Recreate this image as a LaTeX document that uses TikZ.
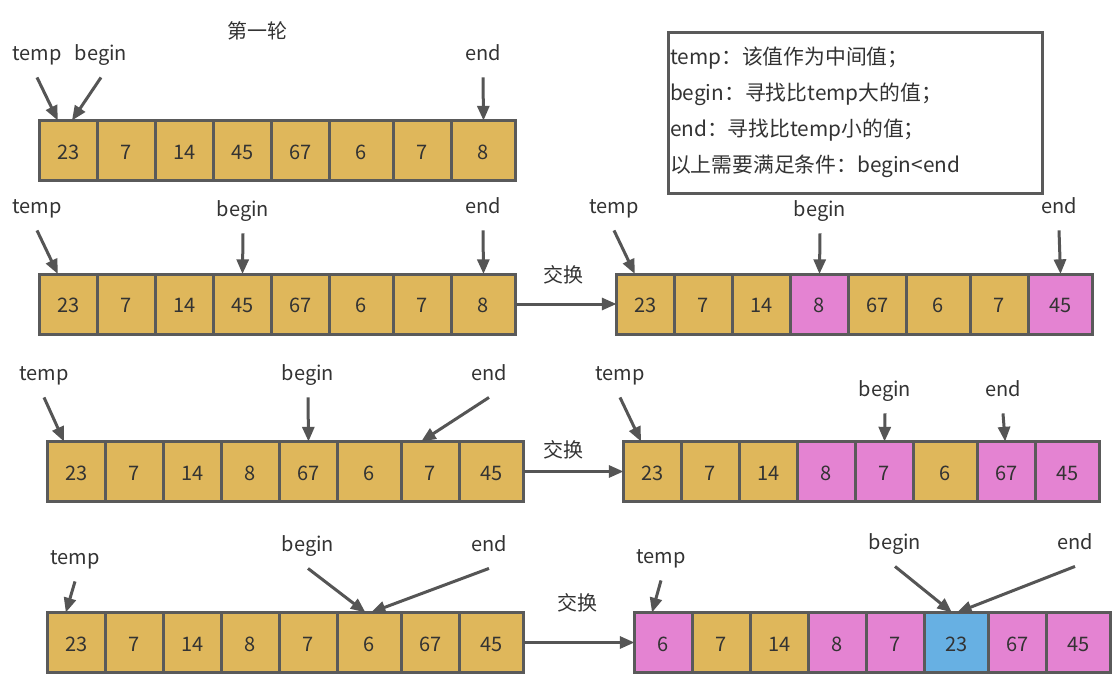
\documentclass[tikz,border=0pt]{standalone}
\usepackage{fontspec}
\setmainfont{Noto Sans CJK SC}
\usepackage{tikz}
\usetikzlibrary{arrows.meta, positioning}
\definecolor{cellgold}{HTML}{DFB75B}
\definecolor{cellpink}{HTML}{E483D2}
\definecolor{cellblue}{HTML}{67B0E3}
\definecolor{edgegray}{HTML}{5A5A5A}
\definecolor{arrowgray}{HTML}{555555}
\definecolor{textgray}{HTML}{333333}

% one array of eight cells (cells 6 and 8 are a little wider)
\newcommand{\numrow}[3]{%
  \foreach \v/\c [count=\i] in {#3} {
    \pgfmathsetmacro{\w}{(\i==6||\i==8) ? 64 : 58}
    \ifnum\i=1
      \node[cell, fill=\c, minimum width=\w*0.75pt, anchor=west] (#1-\i) at #2 {\v};
    \else
      \pgfmathtruncatemacro{\j}{\i-1}
      \node[cell, fill=\c, minimum width=\w*0.75pt, right=0pt of #1-\j] (#1-\i) {\v};
    \fi
  }%
}

\begin{document}
\begin{tikzpicture}[
    x=0.75pt, y=-0.75pt,
    cell/.style={draw=edgegray, line width=2.25pt, minimum height=45pt, inner sep=0pt, outer sep=0pt, text height=13pt, text=textgray, font=\fontsize{15pt}{18pt}\selectfont},
    lbl/.style={inner sep=0pt, text=textgray, text height=12.5pt, text depth=1.75pt, font=\fontsize{15pt}{18pt}\selectfont},
    ptr/.style={draw=arrowgray, line width=2.25pt, -{Triangle[length=11pt, width=9pt]}}
]
\path[fill=white] (0,0) rectangle (1115,690);

% Arrays
\numrow{r1}{(39.5,150.5)}{23/cellgold,7/cellgold,14/cellgold,45/cellgold,67/cellgold,6/cellgold,7/cellgold,8/cellgold}
\numrow{r2a}{(39.5,304)}{23/cellgold,7/cellgold,14/cellgold,45/cellgold,67/cellgold,6/cellgold,7/cellgold,8/cellgold}
\numrow{r2b}{(616.5,304)}{23/cellgold,7/cellgold,14/cellgold,8/cellpink,67/cellgold,6/cellgold,7/cellgold,45/cellpink}
\numrow{r3a}{(47.5,471.5)}{23/cellgold,7/cellgold,14/cellgold,8/cellgold,67/cellgold,6/cellgold,7/cellgold,45/cellgold}
\numrow{r3b}{(623.5,471.5)}{23/cellgold,7/cellgold,14/cellgold,8/cellpink,7/cellpink,6/cellgold,67/cellpink,45/cellpink}
\numrow{r4a}{(47.5,642.5)}{23/cellgold,7/cellgold,14/cellgold,8/cellgold,7/cellgold,6/cellgold,67/cellgold,45/cellgold}
\numrow{r4b}{(634.5,642.5)}{6/cellpink,7/cellgold,14/cellgold,8/cellpink,7/cellpink,23/cellblue,67/cellpink,45/cellpink}

% Title and legend
\node[lbl] (title) at (257,31) {第一轮};
\node[draw=edgegray, line width=2.25pt, anchor=north west, minimum height=161*0.75pt, text width=370*0.75pt, inner xsep=1.5pt, align=left, text=textgray, font=\fontsize{15.6pt}{27.1pt}\selectfont] (legend) at (666.5,30.5)
  {temp：该值作为中间值；\\ begin：寻找比temp大的值；\\ end：寻找比temp小的值；\\ 以上需要满足条件：begin<end};

% Pointer labels
\node[lbl] (r1t) at (37,53) {temp};
\node[lbl] (r1b) at (101,53) {begin};
\node[lbl] (r1e) at (483,53) {end};
\node[lbl] (r2at) at (37,206) {temp};
\node[lbl] (r2ab) at (243,209) {begin};
\node[lbl] (r2ae) at (483,206) {end};
\node[lbl] (r2bt) at (614,206) {temp};
\node[lbl] (r2bb) at (820,209) {begin};
\node[lbl] (r2be) at (1059,206) {end};
\node[lbl] (r3at) at (44,373) {temp};
\node[lbl] (r3ab) at (308,373) {begin};
\node[lbl] (r3ae) at (489,373) {end};
\node[lbl] (r3bt) at (620,373) {temp};
\node[lbl] (r3bb) at (885,389) {begin};
\node[lbl] (r3be) at (1003,389) {end};
\node[lbl] (r4at) at (75,557) {temp};
\node[lbl] (r4ab) at (308,544) {begin};
\node[lbl] (r4ae) at (489,544) {end};
\node[lbl] (r4bt) at (661,556) {temp};
\node[lbl] (r4bb) at (895,542) {begin};
\node[lbl] (r4be) at (1075,542) {end};

% Pointers
\draw[ptr] ([yshift=-11pt]r1t.south) -- ([xshift=-8pt]r1-1.north);
\draw[ptr] ([yshift=-11pt]r1b.south) -- ([xshift=2.6pt]r1-1.north);
\draw[ptr] ([yshift=-11pt]r1e.south) -- (r1-8.north);
\draw[ptr] ([yshift=-11pt]r2at.south) -- ([xshift=-8pt]r2a-1.north);
\draw[ptr] ([yshift=-11pt]r2ab.south) -- (r2a-4.north);
\draw[ptr] ([yshift=-11pt]r2ae.south) -- (r2a-8.north);
\draw[ptr] ([yshift=-11pt]r2bt.south) -- ([xshift=-8pt]r2b-1.north);
\draw[ptr] ([yshift=-11pt]r2bb.south) -- (r2b-4.north);
\draw[ptr] ([yshift=-11pt]r2be.south) -- (r2b-8.north);
\draw[ptr] ([yshift=-11pt]r3at.south) -- ([xshift=-9.4pt]r3a-1.north);
\draw[ptr] ([yshift=-11pt]r3ab.south) -- (r3a-5.north);
\draw[ptr] ([yshift=-11pt]r3ae.south) -- ([xshift=-7pt]r3a-7.north);
\draw[ptr] ([yshift=-11pt]r3bt.south) -- ([xshift=-8.6pt]r3b-1.north);
\draw[ptr] ([yshift=-11pt]r3bb.south) -- (r3b-5.north);
\draw[ptr] ([yshift=-11pt]r3be.south) -- ([xshift=-1pt]r3b-7.north);
\draw[ptr] ([yshift=-11pt]r4at.south) -- ([xshift=-8pt]r4a-1.north);
\draw[ptr] ([yshift=-11pt]r4ab.south) -- ([xshift=-3pt]r4a-6.north);
\draw[ptr] ([yshift=-11pt]r4ae.south) -- ([xshift=1pt]r4a-6.north);
\draw[ptr] ([yshift=-11pt]r4bt.south) -- ([xshift=-8.6pt]r4b-1.north);
\draw[ptr] ([yshift=-11pt]r4bb.south) -- ([xshift=-3.4pt]r4b-6.north);
\draw[ptr] ([yshift=-11pt]r4be.south) -- ([xshift=0.4pt]r4b-6.north);

% Swaps
\node[lbl] (sw2) at (563,275) {交换};
\node[lbl] (sw3) at (563,450) {交换};
\node[lbl] (sw4) at (577,603) {交换};
\draw[ptr] (r2a-8.east) -- (r2b-1.west);
\draw[ptr] (r3a-8.east) -- (r3b-1.west);
\draw[ptr] (r4a-8.east) -- (r4b-1.west);

\end{tikzpicture}
\end{document}
